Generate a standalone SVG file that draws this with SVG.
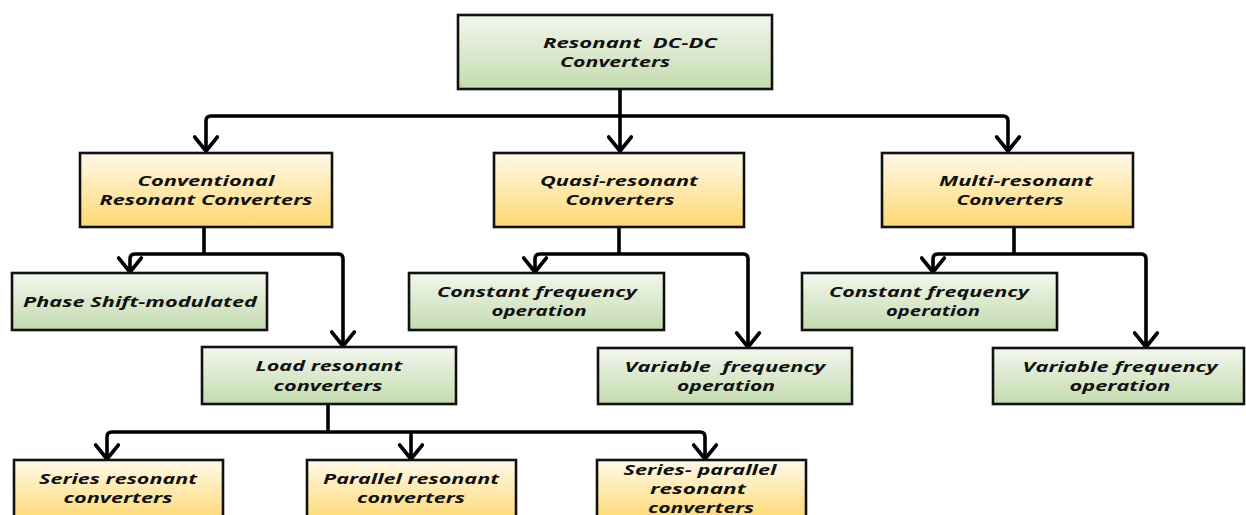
<svg xmlns="http://www.w3.org/2000/svg" width="1246" height="515" viewBox="0 0 1246 515">
  <defs>
    <linearGradient id="gGreen" x1="0" y1="0" x2="0" y2="1">
      <stop offset="0" stop-color="#f3f7ef"/>
      <stop offset="1" stop-color="#c3dbae"/>
    </linearGradient>
    <linearGradient id="gYellow" x1="0" y1="0" x2="0" y2="1">
      <stop offset="0" stop-color="#fff9ea"/>
      <stop offset="1" stop-color="#fdd871"/>
    </linearGradient>
    <marker id="arrow" markerUnits="userSpaceOnUse" markerWidth="30" markerHeight="30" viewBox="-16 -14 20 28" refX="0" refY="0" orient="auto">
      <path d="M-13,-10.5 L0,0 L-13,10.5" fill="none" stroke="#000" stroke-width="3.5" stroke-linejoin="round" stroke-linecap="round"/>
    </marker>
  </defs>
  <style>
    .box { stroke: #111; stroke-width: 2.6; }
    .green { fill: url(#gGreen); }
    .yellow { fill: url(#gYellow); }
    .lbl { font-family: "Open Sans", "Liberation Sans", sans-serif; font-weight: bold; font-style: italic; font-size: 14.6px; fill: #111; text-anchor: middle; white-space: pre; }
    .wire { fill: none; stroke: #000; stroke-width: 3.6; marker-end: url(#arrow); }
    .trunk { fill: none; stroke: #000; stroke-width: 3.6; }
  </style>
  <rect width="1246" height="515" fill="#fff"/>

  <!-- connectors -->
  <g id="connectors">
    <path class="trunk" d="M620,89 V116"/>
    <path class="wire" d="M620,116 V151"/>
    <path class="wire" d="M620,116 H211 Q206,116 206,121 V151"/>
    <path class="wire" d="M620,116 H1003 Q1008,116 1008,121 V151"/>

    <path class="trunk" d="M204,227 V254"/>
    <path class="wire" d="M204,254 H135 Q130,254 130,259 V272"/>
    <path class="wire" d="M204,254 H338 Q343,254 343,259 V346"/>

    <path class="trunk" d="M619,227 V254"/>
    <path class="wire" d="M619,254 H540 Q535,254 535,259 V272"/>
    <path class="wire" d="M619,254 H743 Q748,254 748,259 V347"/>

    <path class="trunk" d="M1014,227 V254"/>
    <path class="wire" d="M1014,254 H938 Q933,254 933,259 V272"/>
    <path class="wire" d="M1014,254 H1141 Q1146,254 1146,259 V347"/>

    <path class="trunk" d="M328,404 V432"/>
    <path class="wire" d="M328,432 H112 Q107,432 107,437 V459"/>
    <path class="wire" d="M411,432 V459"/>
    <path class="wire" d="M328,432 H700 Q705,432 705,437 V459"/>
  </g>

  <!-- nodes -->
  <g id="root">
    <rect class="box green" x="458" y="15" width="314" height="74"/>
    <text class="lbl" x="630" y="48" textLength="174" lengthAdjust="spacingAndGlyphs">Resonant  DC-DC</text>
    <text class="lbl" x="615" y="67" textLength="110" lengthAdjust="spacingAndGlyphs">Converters</text>
  </g>

  <g id="conventional">
    <rect class="box yellow" x="80" y="153" width="252" height="74"/>
    <text class="lbl" x="206" y="186" textLength="137" lengthAdjust="spacingAndGlyphs">Conventional</text>
    <text class="lbl" x="206" y="205" textLength="213" lengthAdjust="spacingAndGlyphs">Resonant Converters</text>
  </g>

  <g id="quasi">
    <rect class="box yellow" x="494" y="153" width="250" height="74"/>
    <text class="lbl" x="619" y="186" textLength="158" lengthAdjust="spacingAndGlyphs">Quasi-resonant</text>
    <text class="lbl" x="620" y="205" textLength="109" lengthAdjust="spacingAndGlyphs">Converters</text>
  </g>

  <g id="multi">
    <rect class="box yellow" x="882" y="153" width="251" height="74"/>
    <text class="lbl" x="1016" y="186" textLength="154" lengthAdjust="spacingAndGlyphs">Multi-resonant</text>
    <text class="lbl" x="1010" y="205" textLength="107" lengthAdjust="spacingAndGlyphs">Converters</text>
  </g>

  <g id="phase-shift">
    <rect class="box green" x="12" y="273" width="255" height="57"/>
    <text class="lbl" x="140" y="307" textLength="234" lengthAdjust="spacingAndGlyphs">Phase Shift-modulated</text>
  </g>

  <g id="quasi-constant">
    <rect class="box green" x="409" y="273" width="255" height="57"/>
    <text class="lbl" x="537" y="297" textLength="200" lengthAdjust="spacingAndGlyphs">Constant frequency</text>
    <text class="lbl" x="539" y="316" textLength="95" lengthAdjust="spacingAndGlyphs">operation</text>
  </g>

  <g id="multi-constant">
    <rect class="box green" x="802" y="273" width="255" height="57"/>
    <text class="lbl" x="929" y="297" textLength="200" lengthAdjust="spacingAndGlyphs">Constant frequency</text>
    <text class="lbl" x="933" y="316" textLength="94" lengthAdjust="spacingAndGlyphs">operation</text>
  </g>

  <g id="load-resonant">
    <rect class="box green" x="202" y="347" width="254" height="57"/>
    <text class="lbl" x="329" y="371" textLength="147" lengthAdjust="spacingAndGlyphs">Load resonant</text>
    <text class="lbl" x="328" y="391" textLength="109" lengthAdjust="spacingAndGlyphs">converters</text>
  </g>

  <g id="quasi-variable">
    <rect class="box green" x="598" y="348" width="254" height="56"/>
    <text class="lbl" x="725" y="372" textLength="201" lengthAdjust="spacingAndGlyphs">Variable  frequency</text>
    <text class="lbl" x="726" y="391" textLength="98" lengthAdjust="spacingAndGlyphs">operation</text>
  </g>

  <g id="multi-variable">
    <rect class="box green" x="993" y="348" width="251" height="56"/>
    <text class="lbl" x="1120" y="372" textLength="195" lengthAdjust="spacingAndGlyphs">Variable frequency</text>
    <text class="lbl" x="1120" y="391" textLength="101" lengthAdjust="spacingAndGlyphs">operation</text>
  </g>

  <g id="series">
    <rect class="box yellow" x="14" y="460" width="209" height="62"/>
    <text class="lbl" x="118" y="484" textLength="158" lengthAdjust="spacingAndGlyphs">Series resonant</text>
    <text class="lbl" x="118" y="503" textLength="109" lengthAdjust="spacingAndGlyphs">converters</text>
  </g>

  <g id="parallel">
    <rect class="box yellow" x="307" y="460" width="209" height="62"/>
    <text class="lbl" x="411" y="484" textLength="176" lengthAdjust="spacingAndGlyphs">Parallel resonant</text>
    <text class="lbl" x="411" y="503" textLength="108" lengthAdjust="spacingAndGlyphs">converters</text>
  </g>

  <g id="series-parallel">
    <rect class="box yellow" x="597" y="460" width="209" height="62"/>
    <text class="lbl" x="700" y="475" textLength="153" lengthAdjust="spacingAndGlyphs">Series- parallel</text>
    <text class="lbl" x="698" y="494" textLength="96" lengthAdjust="spacingAndGlyphs">resonant</text>
    <text class="lbl" x="701" y="513" textLength="106" lengthAdjust="spacingAndGlyphs">converters</text>
  </g>
</svg>
